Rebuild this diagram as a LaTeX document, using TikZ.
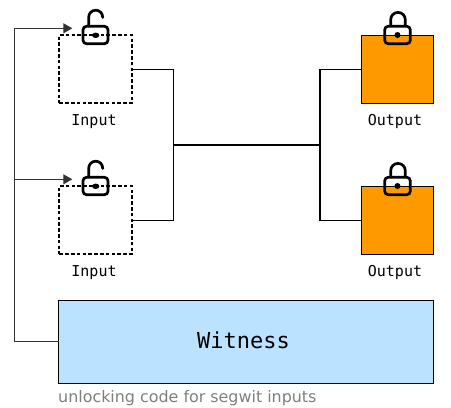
\documentclass[tikz,border=0pt]{standalone}
\usepackage{fontspec}
\setmainfont{DejaVu Sans}
\newfontfamily\labelfont{DejaVu Sans Mono}
\usetikzlibrary{arrows.meta}
\definecolor{orangefill}{HTML}{FF9900}
\definecolor{witnessfill}{HTML}{BBE3FF}
\definecolor{linegray}{HTML}{333333}
\definecolor{captiongray}{HTML}{7F7F7F}
\tikzset{
  x=1pt,y=-1pt,
  inbox/.style={draw=black,line width=1.8pt,dash pattern=on 3.6pt off 2.2pt,minimum width=72.4pt,minimum height=68.2pt,inner sep=0pt,outer sep=0pt,anchor=north west},
  outbox/.style={draw=black,line width=0.9pt,fill=orangefill,minimum width=72pt,minimum height=68pt,inner sep=0pt,outer sep=0pt,anchor=north west},
  witnessbox/.style={draw=black,line width=1.1pt,fill=witnessfill,minimum width=375.4pt,minimum height=82.8pt,inner sep=0pt,outer sep=0pt,anchor=north west},
  witnesstext/.style={font=\labelfont\fontsize{22}{26}\selectfont,text=black,inner sep=0pt},
  boxlabel/.style={font=\labelfont\fontsize{15}{18}\selectfont,text=black,inner sep=0pt},
  wire/.style={draw=black,line width=1.1pt},
  feed/.style={draw=linegray,line width=1pt},
  feedarrow/.style={feed,-{Triangle[length=9pt,width=10pt,fill=linegray]}},
  lockline/.style={draw=black,line width=2.7pt,line cap=round},
  lockbody/.style={draw=black,line width=2.7pt,rounded corners=3.5pt},
}
\begin{document}
\begin{tikzpicture}
\useasboundingbox (0,0) rectangle (451,408);
\node[inbox] (in1) at (59.3,35) {};
\node[inbox] (in2) at (59.3,186) {};
\node[outbox] (out1) at (361.3,35.3) {};
\node[outbox] (out2) at (361.3,186.3) {};
\node[witnessbox] (wit) at (58.5,300.3) {};
\node[witnesstext] (wtext) at (243.5,340.5) {Witness};
\node[boxlabel] (l1) at (94,121.3) {Input};
\node[boxlabel] (l2) at (94,272.3) {Input};
\node[boxlabel] (l3) at (395,121.3) {Output};
\node[boxlabel] (l4) at (395,272.3) {Output};
\node[font=\fontsize{15.9}{19}\selectfont,text=captiongray,anchor=west,inner sep=0pt] (cap) at (58,397.7) {unlocking code for segwit inputs};
\coordinate (jl) at (173.7,145);
\coordinate (jr) at (320,145);
\coordinate (feedtop) at (14.7,28.3);
\coordinate (feedmid) at (14.7,179.3);
\coordinate (a1) at (72.3,28.3);
\coordinate (a2) at (72.3,179.3);
\draw[wire] (in1.east) -| (jl) |- (in2.east);
\draw[wire] (jl) -- (jr);
\draw[wire] (out1.west) -| (jr) |- (out2.west);
\draw[feed] (wit.west) -| (feedtop);
\draw[feedarrow] (feedtop) -- (a1);
\draw[feedarrow] (feedmid) -- (a2);
% open locks
\foreach \dy in {0,151}{
  \begin{scope}[yshift=-\dy pt]
  \draw[lockbody] (83,26.3) rectangle (108,43.7);
  \draw[lockline] (88.7,26) -- (88.7,17.2) arc[start angle=180,end angle=360,radius=7] -- (102.7,17.5);
  \fill[black] (95.7,35.3) ellipse[x radius=3.7,y radius=2.7];
  \end{scope}
}
% closed locks
\foreach \dy in {0,151}{
  \begin{scope}[yshift=-\dy pt]
  \draw[lockbody] (384.7,26.3) rectangle (410.3,43.7);
  \draw[lockline] (390.7,26) -- (390.7,19.7) arc[start angle=180,end angle=360,radius=7.3] -- (405.3,26);
  \fill[black] (397.5,35) circle[radius=3];
  \end{scope}
}
\end{tikzpicture}
\end{document}
